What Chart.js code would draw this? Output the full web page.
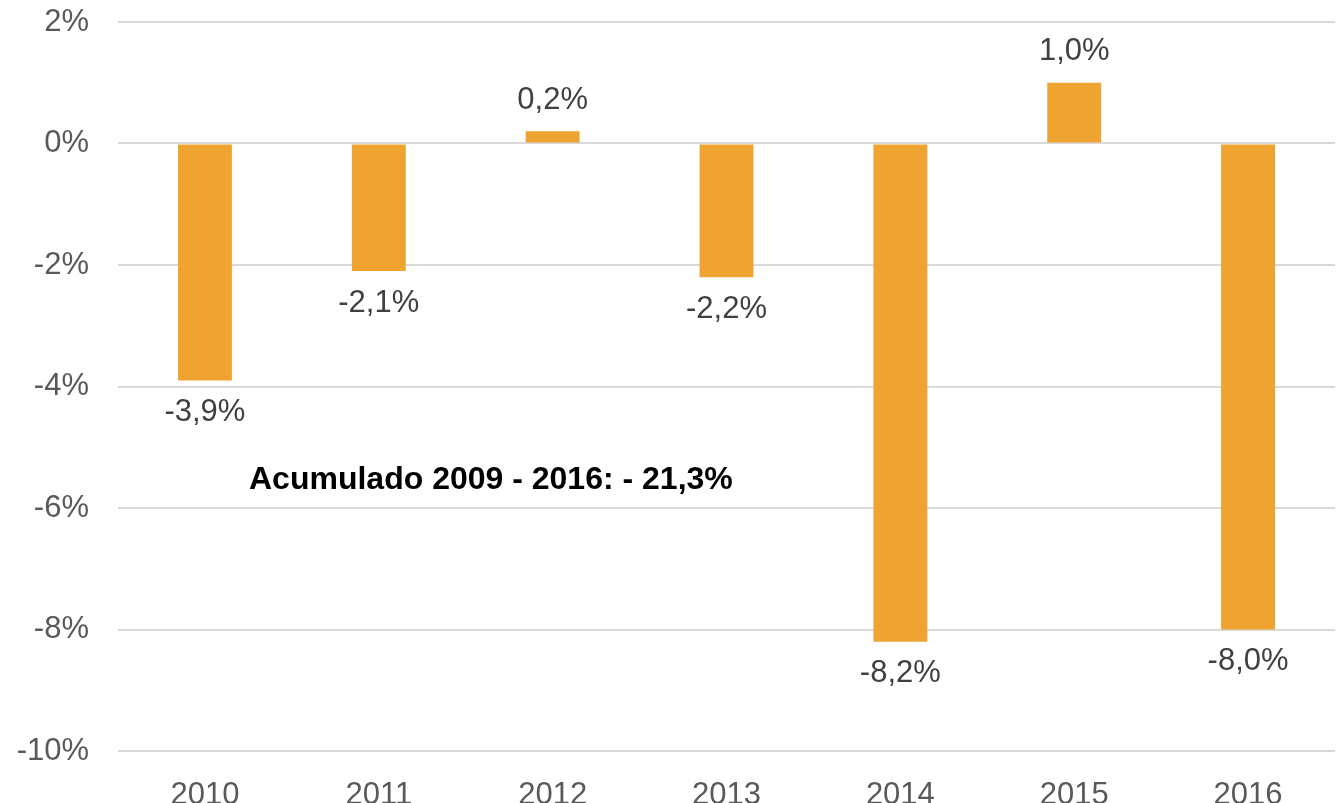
<!DOCTYPE html>
<html>
<head>
<meta charset="utf-8">
<script src="https://cdn.jsdelivr.net/npm/chart.js@4"></script>
<style>
  html, body { margin: 0; padding: 0; background: #fff; }
  #wrap { width: 1340px; height: 803px; position: relative; }
</style>
</head>
<body>
<div id="wrap"><canvas id="chart"></canvas></div>
<script>
// chart data
const years = ['2010', '2011', '2012', '2013', '2014', '2015', '2016'];
const changes = [-3.9, -2.1, 0.2, -2.2, -8.2, 1.0, -8.0];
const yTicks = [2, 0, -2, -4, -6, -8, -10];
const noteText = 'Acumulado 2009 - 2016: - 21,3%';

const FONT = '"Liberation Sans", Arial, sans-serif';

const fmt = v => v.toFixed(1).replace('.', ',') + '%';

// draws the value labels and the note
const labelsPlugin = {
  id: 'barLabels',
  afterDatasetsDraw(chart) {
    const ctx = chart.ctx;
    const meta = chart.getDatasetMeta(0);
    ctx.save();
    ctx.font = '31px ' + FONT;
    ctx.fillStyle = '#404040';
    ctx.textAlign = 'center';
    ctx.textBaseline = 'middle';
    meta.data.forEach((bar, i) => {
      const v = changes[i];
      const y = v >= 0 ? bar.y - 31 : bar.y + 32;
      ctx.fillText(fmt(v), bar.x, y);
    });

    // note inside plot
    const yScale = chart.scales.y;
    ctx.font = 'bold 32px ' + FONT;
    ctx.fillStyle = '#000';
    ctx.textAlign = 'left';
    ctx.fillText(noteText, chart.chartArea.left + 131, yScale.getPixelForValue(-5.55));
    ctx.restore();
  }
};

const ctx = document.getElementById('chart').getContext('2d');
const chart = new Chart(ctx, {
  type: 'bar',
  data: {
    labels: years,
    datasets: [{
      data: changes,
      backgroundColor: '#EFA331',
      borderWidth: 0,
      barPercentage: 0.31,
      categoryPercentage: 1
    }]
  },
  options: {
    responsive: true,
    maintainAspectRatio: false,
    animation: false,
    layout: { padding: { top: 22, right: 5, left: 0, bottom: 0 } },
    plugins: {
      legend: { display: false },
      tooltip: { enabled: false }
    },
    scales: {
      x: {
        grid: { display: false },
        border: { display: false },
        ticks: {
          color: '#595959',
          font: { family: FONT, size: 31 },
          padding: 18,
          maxRotation: 0
        },
        afterFit(scale) {
          scale.height = 52;
          scale.paddingLeft = 0;
          scale.paddingRight = 0;
        }
      },
      y: {
        min: -10,
        max: 2,
        afterBuildTicks(scale) {
          scale.ticks = yTicks.map(v => ({ value: v }));
        },
        grid: { color: '#d9d9d9', lineWidth: 2, drawTicks: false },
        border: { display: false },
        ticks: {
          color: '#595959',
          font: { family: FONT, size: 31 },
          padding: 29,
          callback: v => v + '%'
        },
        afterFit(scale) {
          scale.width = 118;
          scale.paddingTop = 0;
          scale.paddingBottom = 0;
        }
      }
    }
  },
  plugins: [labelsPlugin]
});
</script>
</body>
</html>
